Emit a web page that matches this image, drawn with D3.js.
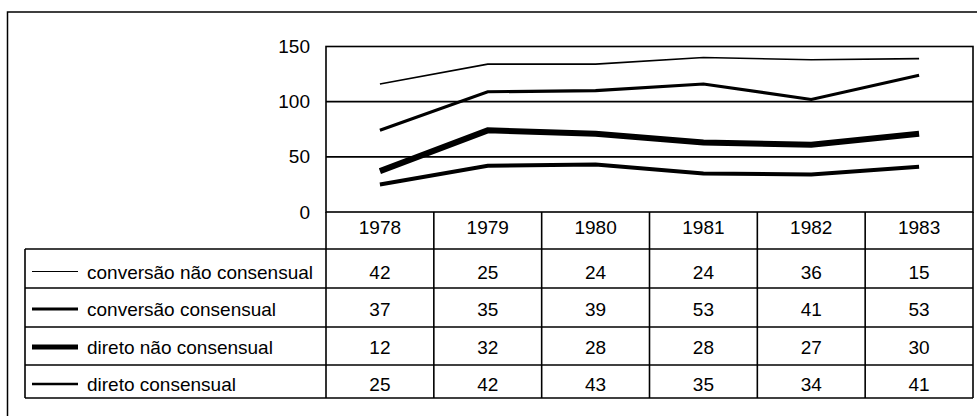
<!DOCTYPE html>
<html>
<head>
<meta charset="utf-8">
<script src="https://cdn.jsdelivr.net/npm/d3@7"></script>
<style>
  body { margin: 0; background: #fff; }
  text { font-family: "Liberation Sans", Arial, sans-serif; font-size: 19px; fill: #000; }
</style>
</head>
<body>
<div id="chart"></div>
<script>
// data
var years = ["1978", "1979", "1980", "1981", "1982", "1983"];
var seriesNames = ["conversão não consensual", "conversão consensual", "direto não consensual", "direto consensual"];
var conversaoNaoConsensual = [42, 25, 24, 24, 36, 15];
var conversaoConsensual = [37, 35, 39, 53, 41, 53];
var diretoNaoConsensual = [12, 32, 28, 28, 27, 30];
var diretoConsensual = [25, 42, 43, 35, 34, 41];
var yTicks = [0, 50, 100, 150];

var seriesValues = [conversaoNaoConsensual, conversaoConsensual, diretoNaoConsensual, diretoConsensual];
var lineWidths = [1.6, 3.2, 6, 4];
var legendWidths = [1.2, 3, 5, 2.5];

var svgWidth = 977;
var svgHeight = 416;

var svg = d3.select("#chart")
  .append("svg")
  .attr("width", svgWidth)
  .attr("height", svgHeight);

// outer frame (right / bottom fall outside the picture)
svg.append("rect")
  .attr("x", 7.5)
  .attr("y", 12)
  .attr("width", 990)
  .attr("height", 440)
  .attr("fill", "none")
  .attr("stroke", "#000")
  .attr("stroke-width", 1.5);

var plotLeft = 326, plotRight = 973;

var x = d3.scaleBand()
  .domain(years)
  .range([plotLeft, plotRight]);

var y = d3.scaleLinear()
  .domain([0, 150])
  .range([212, 46.5]);

// table rows built from the data
var rows = years.map(function(yr, i) {
  var r = { year: yr };
  seriesNames.forEach(function(name, k) { r[name] = seriesValues[k][i]; });
  return r;
});

// stacked: bottom series first
var stackOrder = seriesNames.slice().reverse();
var stacked = d3.stack().keys(stackOrder)(rows);

// gridlines
svg.append("g")
  .selectAll("line")
  .data(yTicks.filter(function(t) { return t > 0 && t < 150; }))
  .enter()
  .append("line")
  .attr("x1", plotLeft)
  .attr("x2", plotRight)
  .attr("y1", d => y(d))
  .attr("y2", d => y(d))
  .attr("stroke", "#000")
  .attr("stroke-width", 1.6);

// plot frame
svg.append("rect")
  .attr("x", plotLeft)
  .attr("y", y(150))
  .attr("width", plotRight - plotLeft)
  .attr("height", y(0) - y(150))
  .attr("fill", "none")
  .attr("stroke", "#000")
  .attr("stroke-width", 1.6);

// y axis labels
var leftAxis = d3.axisLeft(y).tickValues(yTicks).tickSize(0).tickPadding(16);
var yAxis = svg.append("g")
  .attr("transform", `translate(${plotLeft}, 0)`)
  .call(leftAxis);
yAxis.select(".domain").remove();
yAxis.selectAll("text")
  .attr("font-size", null)
  .attr("font-family", null)
  .style("font-size", "19px")
  .attr("fill", "#000");

// lines
var line = d3.line()
  .x(d => x(d.data.year) + x.bandwidth() / 2)
  .y(d => y(d[1]));

svg.append("g")
  .selectAll("path")
  .data(stacked)
  .enter()
  .append("path")
  .attr("d", d => line(d))
  .attr("fill", "none")
  .attr("stroke", "#000")
  .attr("stroke-linejoin", "miter")
  .attr("stroke-width", d => lineWidths[seriesNames.indexOf(d.key)]);

// data table
var tableLeft = 25;
var headerTop = y(0);
var rowEdges = [249, 288, 327, 365, 398];

var table = svg.append("g");

// header cells
table.selectAll(".yr")
  .data(years)
  .enter()
  .append("text")
  .attr("x", d => x(d) + x.bandwidth() / 2)
  .attr("y", 233.5)
  .attr("text-anchor", "middle")
  .text(d => d);

// horizontal row lines
table.selectAll(".hl")
  .data(rowEdges)
  .enter()
  .append("line")
  .attr("x1", tableLeft)
  .attr("x2", plotRight)
  .attr("y1", d => d)
  .attr("y2", d => d)
  .attr("stroke", "#000")
  .attr("stroke-width", 1.6);

// vertical lines between columns
var colEdges = years.map(d => x(d)).concat([plotRight]);
table.selectAll(".vl")
  .data(colEdges)
  .enter()
  .append("line")
  .attr("x1", d => d)
  .attr("x2", d => d)
  .attr("y1", headerTop)
  .attr("y2", rowEdges[rowEdges.length - 1])
  .attr("stroke", "#000")
  .attr("stroke-width", 1.6);

table.append("line")
  .attr("x1", tableLeft)
  .attr("x2", tableLeft)
  .attr("y1", rowEdges[0])
  .attr("y2", rowEdges[rowEdges.length - 1])
  .attr("stroke", "#000")
  .attr("stroke-width", 1.6);

var baselines = [278.5, 316, 354, 391];

seriesNames.forEach(function(name, k) {
  var g = table.append("g");
  g.append("line")
    .attr("x1", 32)
    .attr("x2", 78)
    .attr("y1", baselines[k] - 7)
    .attr("y2", baselines[k] - 7)
    .attr("stroke", "#000")
    .attr("stroke-width", legendWidths[k]);
  g.append("text")
    .attr("x", 87)
    .attr("y", baselines[k])
    .text(name);
  g.selectAll(".v")
    .data(seriesValues[k])
    .enter()
    .append("text")
    .attr("x", (d, i) => x(years[i]) + x.bandwidth() / 2)
    .attr("y", baselines[k])
    .attr("text-anchor", "middle")
    .text(d => d);
});
</script>
</body>
</html>
